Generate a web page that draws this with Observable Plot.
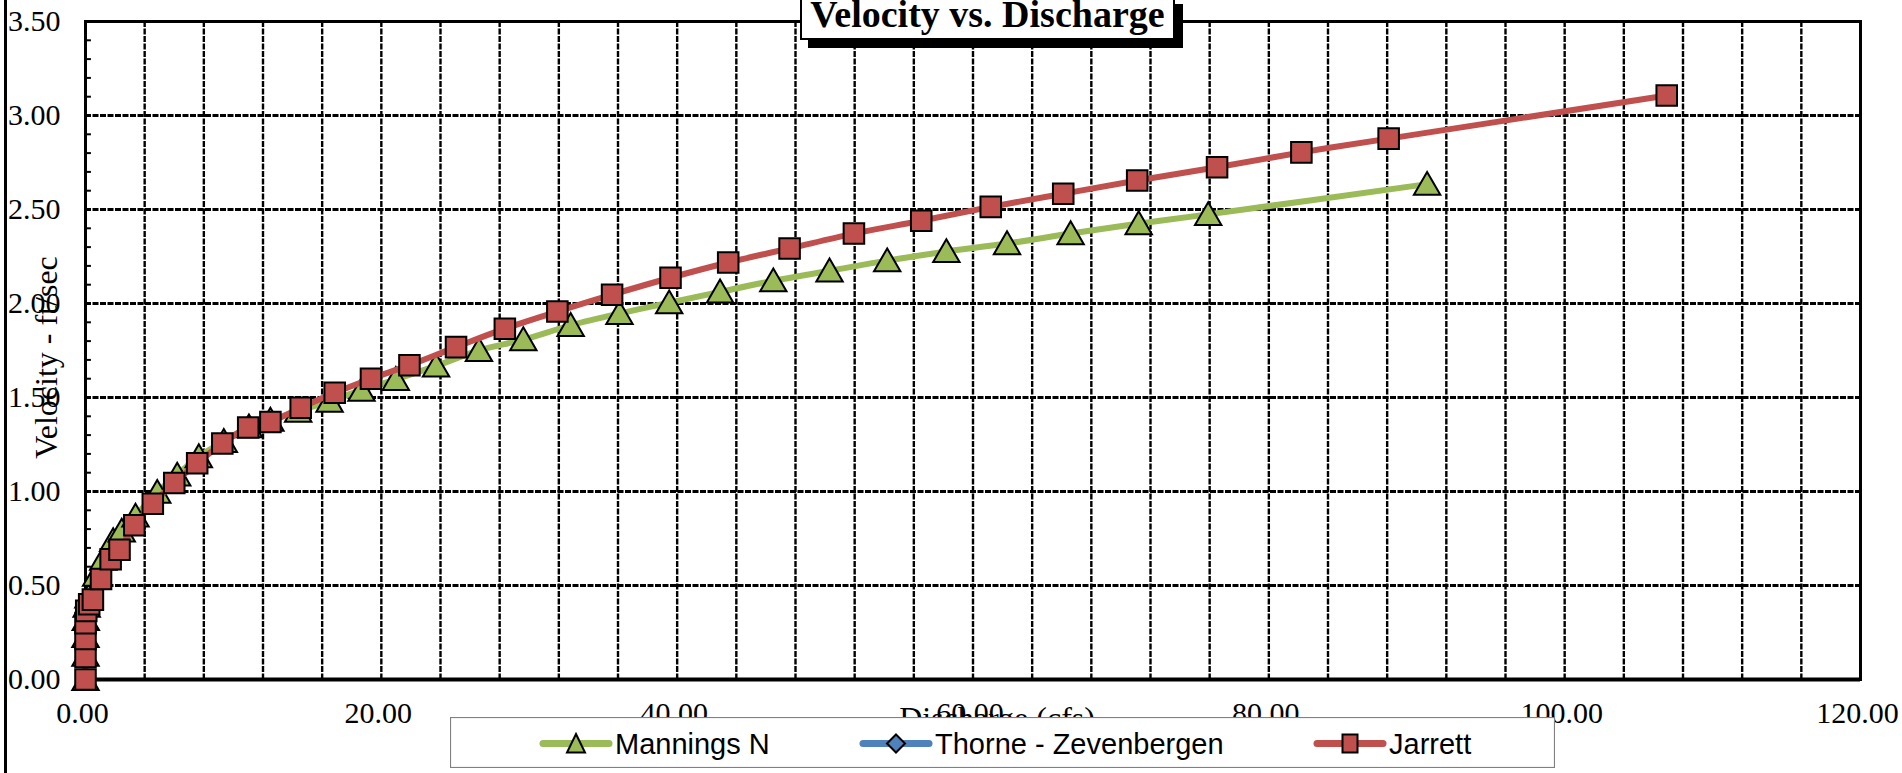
<!DOCTYPE html>
<html><head><meta charset="utf-8">
<script src="https://cdn.jsdelivr.net/npm/d3@7"></script>
<script src="https://cdn.jsdelivr.net/npm/@observablehq/plot@0.6"></script>
<style>
html,body{margin:0;padding:0;background:#fff;width:1902px;height:773px;overflow:hidden;}
#wrap{position:relative;width:1902px;height:773px;}
#chart svg{display:block}
#leftline{position:absolute;left:4px;top:0;width:3px;height:773px;background:#000;}
#title{position:absolute;left:800px;top:-4px;width:371px;height:40px;border:2px solid #000;background:#fff;box-shadow:8px 8px 0 #000;font:bold 38px "Liberation Serif",serif;line-height:32px;text-align:center;white-space:nowrap;}
#legend{position:absolute;left:450px;top:717px;}
</style></head>
<body><div id="wrap"><div id="chart"></div><div id="leftline"></div><div id="title">Velocity vs. Discharge</div><div id="legend"></div></div>
<script>
// ---- data ----
const seriesNames = ["Mannings N", "Thorne - Zevenbergen", "Jarrett"];
const seriesColors = ["#9BBB59", "#4F81BD", "#C0504D"];

const mannQ = [0, 0, 0, 0.02, 0.08, 0.2, 0.72, 1.2, 1.87, 2.45, 3.38, 4.85, 6.2, 7.66, 9.35, 11.05, 12.5, 14.38, 16.5, 18.66, 20.98, 23.7, 26.6, 29.6, 32.8, 36.1, 39.46, 42.9, 46.5, 50.3, 54.2, 58.2, 62.3, 66.6, 71.2, 75.9, 90.7];
const mannV = [0, 0.13, 0.23, 0.32, 0.39, 0.44, 0.555, 0.64, 0.74, 0.79, 0.87, 0.996, 1.088, 1.186, 1.267, 1.345, 1.38, 1.428, 1.481, 1.539, 1.597, 1.668, 1.751, 1.808, 1.884, 1.947, 2.004, 2.062, 2.121, 2.174, 2.228, 2.277, 2.319, 2.372, 2.425, 2.474, 2.635];

const thorneQ = [];
const thorneV = [];

const jarQ = [0, 0, 0, 0, 0.05, 0.25, 0.5, 1.05, 1.7, 2.3, 3.3, 4.55, 6.0, 7.55, 9.25, 11.0, 12.5, 14.55, 16.85, 19.3, 21.9, 25.05, 28.35, 31.9, 35.6, 39.55, 43.45, 47.6, 51.95, 56.5, 61.2, 66.1, 71.1, 76.5, 82.2, 88.1, 106.9];
const jarV = [0, 0.12, 0.215, 0.30, 0.365, 0.40, 0.425, 0.535, 0.64, 0.69, 0.82, 0.935, 1.045, 1.15, 1.255, 1.34, 1.37, 1.445, 1.525, 1.60, 1.672, 1.768, 1.866, 1.957, 2.047, 2.137, 2.218, 2.293, 2.372, 2.44, 2.514, 2.584, 2.654, 2.725, 2.804, 2.877, 3.106];

const xTicks = [0, 20, 40, 60, 80, 100, 120];
const yTicks = [0, 0.5, 1, 1.5, 2, 2.5, 3, 3.5];
const xGrid = [4, 8, 12, 16, 20, 24, 28, 32, 36, 40, 44, 48, 52, 56, 60, 64, 68, 72, 76, 80, 84, 88, 92, 96, 100, 104, 108, 112, 116];
const yMinor = [0.1, 0.2, 0.3, 0.4, 0.6, 0.7, 0.8, 0.9, 1.1, 1.2, 1.3, 1.4, 1.6, 1.7, 1.8, 1.9, 2.1, 2.2, 2.3, 2.4, 2.6, 2.7, 2.8, 2.9, 3.1, 3.2, 3.3, 3.4];

const chartTitle = "Velocity vs. Discharge";
const xLabel = "Discharge (cfs)";
const yLabel = "Velocity - ft/sec";

// ---- build ----
const rows = (qs, vs) => qs.map((q, i) => ({q, v: vs[i]}));
const mann = rows(mannQ, mannV);
const thorne = rows(thorneQ, thorneV);
const jar = rows(jarQ, jarV);
const fmt = d3.format(".2f");

const plot = Plot.plot({
  width: 1902,
  height: 773,
  marginLeft: 85,
  marginRight: 42,
  marginTop: 21,
  marginBottom: 94,
  style: {fontFamily: "'Liberation Serif', 'Times New Roman', serif", fontSize: "30px", color: "#000", background: "transparent", overflow: "visible"},
  x: {domain: [0, 120]},
  y: {domain: [0, 3.5]},
  marks: [
    Plot.ruleX(xGrid, {stroke: "#000", strokeWidth: 2.4, strokeDasharray: "6,1.5"}),
    Plot.ruleY(yTicks.slice(1, -1), {stroke: "#000", strokeWidth: 3, strokeDasharray: "6,1.5"}),
    Plot.ruleY(yMinor, {x1: 0, x2: 0.4, stroke: "#000", strokeWidth: 2}),
    Plot.frame({stroke: "#000", strokeWidth: 3}),
    Plot.ruleY([0], {stroke: "#000", strokeWidth: 4}),
    Plot.axisX({ticks: xTicks, tickFormat: fmt, tickSize: 0, tickPadding: 22, dx: -3, label: null}),
    Plot.axisY({ticks: yTicks, tickFormat: fmt, tickSize: 0, tickPadding: 25, label: null}),
    Plot.text([yLabel], {text: d => d, frameAnchor: "left", rotate: -90, dx: -39, dy: 7, fontSize: 32, lineAnchor: "middle", textAnchor: "middle"}),
    Plot.text([xLabel], {text: d => d, frameAnchor: "bottom", dx: 24, dy: 39, fontSize: 32, lineAnchor: "middle", textAnchor: "middle"}),
    Plot.line(mann, {x: "q", y: "v", stroke: seriesColors[0], strokeWidth: 6, curve: "catmull-rom"}),
    Plot.dot(mann, {x: "q", y: "v", symbol: "triangle", r: 9.8, fill: seriesColors[0], stroke: "#000", strokeWidth: 2, dy: 3}),
    Plot.line(thorne, {x: "q", y: "v", stroke: seriesColors[1], strokeWidth: 6, curve: "catmull-rom"}),
    Plot.dot(thorne, {x: "q", y: "v", symbol: "diamond", r: 8, fill: seriesColors[1], stroke: "#000", strokeWidth: 2}),
    Plot.line(jar, {x: "q", y: "v", stroke: seriesColors[2], strokeWidth: 6, curve: "catmull-rom"}),
    Plot.dot(jar, {x: "q", y: "v", symbol: "square", r: 11.6, fill: seriesColors[2], stroke: "#000", strokeWidth: 2})
  ]
});
document.getElementById("chart").appendChild(plot);
document.getElementById("title").textContent = chartTitle;

// ---- legend ----
const ns = "http://www.w3.org/2000/svg";
const lw = 1105, lh = 51;
const leg = d3.select("#legend").append("svg").attr("xmlns", ns).attr("width", lw).attr("height", lh);
leg.append("rect").attr("x", 0.5).attr("y", 0.5).attr("width", lw - 1).attr("height", lh - 1)
  .attr("fill", "#fff").attr("stroke", "#808080").attr("stroke-width", 1.2);
const starts = [93, 413, 867];
const shapes = [
  "M0,-9.5L9,9L-9,9Z",
  "M0,-9L9,0L0,9L-9,0Z",
  "M-7.5,-9L7.5,-9L7.5,9L-7.5,9Z"
];
const cy = 26.5;
seriesNames.forEach((name, i) => {
  const g = leg.append("g").attr("transform", `translate(${starts[i]},0)`);
  g.append("line").attr("x1", 0).attr("x2", 66).attr("y1", cy).attr("y2", cy)
    .attr("stroke", seriesColors[i]).attr("stroke-width", 7).attr("stroke-linecap", "round");
  g.append("path").attr("d", shapes[i]).attr("transform", `translate(33,${cy})`)
    .attr("fill", seriesColors[i]).attr("stroke", "#000").attr("stroke-width", 2);
  g.append("text").attr("x", 72).attr("y", cy + 10.5).text(name)
    .attr("font-family", "'Liberation Sans', Arial, sans-serif").attr("font-size", 29).attr("fill", "#000");
});
</script></body></html>
